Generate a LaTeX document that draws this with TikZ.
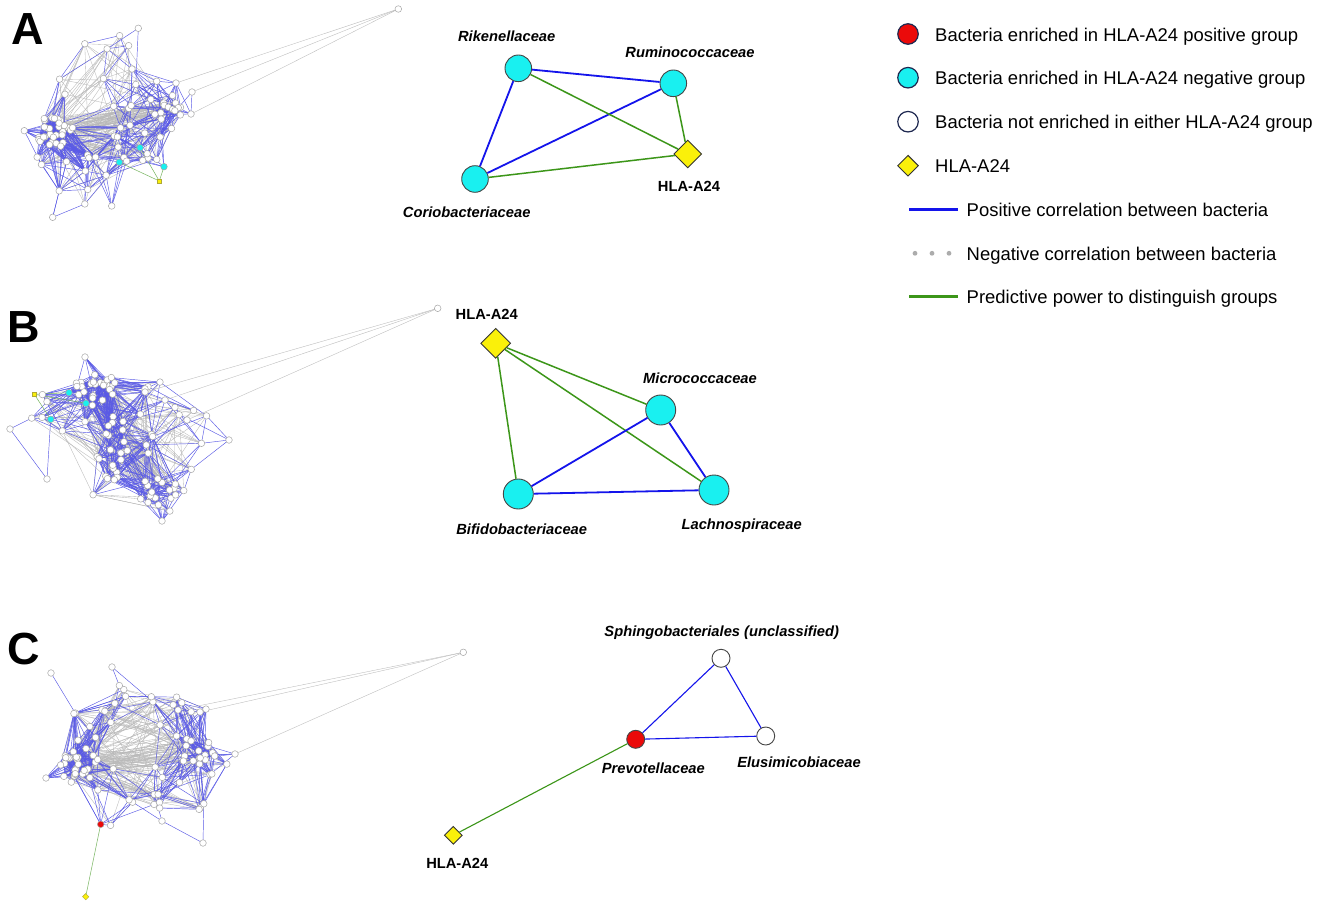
\documentclass[tikz,border=0pt]{standalone}
\usepackage{fontspec}
\setmainfont{Liberation Sans}
\usetikzlibrary{shapes.geometric}

\definecolor{posblue}{RGB}{20,20,235}
\definecolor{predgreen}{RGB}{60,150,25}
\definecolor{hbblue}{RGB}{90,90,230}
\definecolor{hbgray}{RGB}{185,185,185}
\definecolor{nodeedge}{RGB}{70,70,70}
\definecolor{legedge}{RGB}{30,40,80}
\definecolor{enrcyan}{RGB}{25,240,240}
\definecolor{enrred}{RGB}{235,10,10}
\definecolor{hlayellow}{RGB}{250,240,10}

% hairball helpers
\newcommand\hbpoint[4]{%
  \expandafter\xdef\csname hb#1x#2\endcsname{#3}%
  \expandafter\xdef\csname hb#1y#2\endcsname{#4}%
  \coordinate (#1#2) at (#3,#4);%
}
\newcommand\hbscatter[7]{%
  \foreach \k in {#2,...,#3}{%
    \pgfmathsetmacro\hbang{360*rnd}%
    \pgfmathsetmacro\hbrad{sqrt(rnd)}%
    \pgfmathsetmacro\hbpx{#4+#6*\hbrad*cos(\hbang)}%
    \pgfmathsetmacro\hbpy{#5+#7*\hbrad*sin(\hbang)}%
    \hbpoint{#1}{\k}{\hbpx}{\hbpy}%
  }%
}
\newcommand\hbgray[4]{%
  \foreach \m in {1,...,#3}{%
    \pgfmathtruncatemacro\hba{random(1,#2)}%
    \pgfmathtruncatemacro\hbb{random(1,#2)}%
    \draw[#4] (#1\hba) -- (#1\hbb);%
  }%
}
\newcommand\hbedges[5]{%
  \foreach \i in {1,...,#2}{%
    \foreach \j in {1,...,#2}{%
      \ifnum\j>\i\relax
        \pgfmathsetmacro\hbdx{\csname hb#1x\i\endcsname-\csname hb#1x\j\endcsname}%
        \pgfmathsetmacro\hbdy{\csname hb#1y\i\endcsname-\csname hb#1y\j\endcsname}%
        \pgfmathtruncatemacro\hbok{and(abs(\hbdx)<#3,abs(\hbdy)<#3)}%
        \ifnum\hbok=1
          \pgfmathtruncatemacro\hbok{and((0.1*(\hbdx))^2+(0.1*(\hbdy))^2<(0.1*#3)^2,rnd<#4)}%
          \ifnum\hbok=1 \draw[#5] (#1\i) -- (#1\j);\fi
        \fi
      \fi
    }%
  }%
}
\newcommand\hbnodes[4]{%
  \foreach \k in {#2,...,#3} \node[#4] (#1n\k) at (#1\k) {};%
}

\begin{document}
\begin{tikzpicture}[x=1pt,y=-1pt]
    \tikzstyle{panel_style}=[font=\fontsize{45}{50}\selectfont\bfseries, inner sep=0pt]
    \tikzstyle{taxon_style}=[font=\fontsize{14.7}{17}\selectfont\bfseries\itshape, inner sep=0pt]
    \tikzstyle{hla_label_style}=[font=\fontsize{14.7}{17}\selectfont\bfseries, inner sep=0pt]
    \tikzstyle{leg_text}=[font=\fontsize{18.45}{22}\selectfont, anchor=base west, inner sep=0pt]
    \tikzstyle{leg_circle}=[circle, draw=legedge, line width=1.2pt, minimum size=20.5pt, inner sep=0pt]
    \tikzstyle{taxon_circle}=[circle, draw=nodeedge, line width=0.9pt, inner sep=0pt]
    \tikzstyle{hla_style}=[diamond, draw=black!80, fill=hlayellow, line width=0.9pt, inner sep=0pt, aspect=1]
    \tikzstyle{pos_edge}=[draw=posblue, line width=1.8pt]
    \tikzstyle{pred_edge}=[draw=predgreen, line width=1.5pt]
    \tikzstyle{hb_node}=[circle, draw=gray!70, fill=white, line width=0.5pt, minimum size=6.6pt, inner sep=0pt]
    \tikzstyle{hb_square}=[rectangle, draw=olive!70, fill=hlayellow, line width=0.4pt, minimum size=4.5pt, inner sep=0pt]
    \tikzstyle{hb_blue}=[draw=hbblue, line width=0.45pt]
    \tikzstyle{hb_gray}=[draw=hbgray, line width=0.35pt]
    \tikzstyle{hb_green}=[draw=predgreen!70, line width=0.5pt]

    \useasboundingbox (0,0) rectangle (1335,904);
    \fill[white] (0,0) rectangle (1335,904);

    % panel letters
    \node at (27.7,29.5) [panel_style] (panel_a) {A};
    \node at (24,327) [panel_style] (panel_b) {B};
    \node at (24,649) [panel_style] (panel_c) {C};

    % hairball a
    \pgfmathsetseed{101}
    \hbscatter{hba_}{1}{25}{57}{133}{20}{16}
    \hbscatter{hba_}{26}{40}{165}{112}{18}{22}
    \hbscatter{hba_}{41}{85}{100}{120}{78}{88}
    \hbpoint{hba_}{86}{138.3}{28.3}
    \hbpoint{hba_}{87}{24.3}{130.7}
    \hbpoint{hba_}{88}{52.7}{217.3}
    \hbpoint{hba_}{89}{111.7}{206}
    \hbpoint{hba_}{90}{192}{92}
    \hbpoint{hba_}{91}{191}{114}
    \hbpoint{hba_}{92}{176}{83}
    \hbpoint{hba_}{93}{140}{147.7}
    \hbpoint{hba_}{94}{119.3}{162.3}
    \hbpoint{hba_}{95}{164}{166.7}
    \hbpoint{hba_}{96}{159.3}{181}
    \hbpoint{hba_}{97}{398.3}{9}
    \hbgray{hba_}{85}{300}{hb_gray}
    \hbedges{hba_}{95}{58}{0.33}{hb_blue}
    \foreach \k in {93,94,95}
      \draw[hb_green] (hba_96) -- (hba_\k);
    \foreach \k in {90,91,92}
      \draw[hb_gray] (hba_97) -- (hba_\k);
    \hbnodes{hba_}{1}{92}{hb_node}
    \hbnodes{hba_}{93}{95}{hb_node, fill=enrcyan}
    \node at (hba_96) [hb_square] (hba_n96) {};
    \node at (hba_97) [hb_node] (hba_n97) {};

    % hairball b
    \pgfmathsetseed{202}
    \hbscatter{hbb_}{1}{25}{97}{388}{22}{14}
    \hbscatter{hbb_}{26}{45}{125}{445}{35}{38}
    \hbscatter{hbb_}{46}{60}{160}{495}{25}{18}
    \hbscatter{hbb_}{61}{85}{118}{440}{100}{72}
    \hbpoint{hbb_}{86}{85}{357}
    \hbpoint{hbb_}{87}{10}{429}
    \hbpoint{hbb_}{88}{229}{440}
    \hbpoint{hbb_}{89}{162}{521}
    \hbpoint{hbb_}{90}{47}{479}
    \hbpoint{hbb_}{91}{187}{420}
    \hbpoint{hbb_}{92}{165}{400}
    \hbpoint{hbb_}{93}{145}{392}
    \hbpoint{hbb_}{94}{69}{392.7}
    \hbpoint{hbb_}{95}{86}{403.3}
    \hbpoint{hbb_}{96}{50.7}{419.3}
    \hbpoint{hbb_}{97}{34.3}{394.3}
    \hbpoint{hbb_}{98}{437.7}{308.3}
    \hbgray{hbb_}{85}{300}{hb_gray}
    \hbedges{hbb_}{96}{58}{0.33}{hb_blue}
    \foreach \k in {87,96}
      \draw[hb_blue] (hbb_90) -- (hbb_\k);
    \foreach \k in {94,95,96}
      \draw[hb_green] (hbb_97) -- (hbb_\k);
    \foreach \k in {91,92,93}
      \draw[hb_gray] (hbb_98) -- (hbb_\k);
    \hbnodes{hbb_}{1}{93}{hb_node}
    \hbnodes{hbb_}{94}{96}{hb_node, fill=enrcyan}
    \node at (hbb_97) [hb_square] (hbb_n97) {};
    \node at (hbb_98) [hb_node] (hbb_n98) {};

    % hairball c
    \pgfmathsetseed{303}
    \hbscatter{hbc_}{1}{25}{77}{767}{20}{16}
    \hbscatter{hbc_}{26}{40}{200}{745}{18}{22}
    \hbscatter{hbc_}{41}{85}{140}{755}{90}{75}
    \hbpoint{hbc_}{86}{112}{667}
    \hbpoint{hbc_}{87}{51}{673}
    \hbpoint{hbc_}{88}{46}{778}
    \hbpoint{hbc_}{89}{235}{754}
    \hbpoint{hbc_}{90}{203}{843}
    \hbpoint{hbc_}{91}{162}{821}
    \hbpoint{hbc_}{92}{178}{710}
    \hbpoint{hbc_}{93}{200}{712}
    \hbpoint{hbc_}{94}{100.7}{824.3}
    \hbpoint{hbc_}{95}{85.7}{896.7}
    \hbpoint{hbc_}{96}{463.3}{652.3}
    \hbgray{hbc_}{85}{300}{hb_gray}
    \hbedges{hbc_}{94}{58}{0.33}{hb_blue}
    \draw[hb_blue] (hbc_90) -- (hbc_91);
    \draw[hb_green] (hbc_95) -- (hbc_94);
    \foreach \k in {89,92,93}
      \draw[hb_gray] (hbc_96) -- (hbc_\k);
    \hbnodes{hbc_}{1}{93}{hb_node}
    \node at (hbc_94) [hb_node, fill=enrred] (hbc_n94) {};
    \node at (hbc_95) [hb_square, rotate=45] (hbc_n95) {};
    \node at (hbc_96) [hb_node] (hbc_n96) {};

    % network a
    \node at (518.3,68.3) [taxon_circle, fill=enrcyan, minimum size=26.6pt] (a_rik) {};
    \node at (673.3,83.3) [taxon_circle, fill=enrcyan, minimum size=26.6pt] (a_rum) {};
    \node at (475,179) [taxon_circle, fill=enrcyan, minimum size=26.6pt] (a_cor) {};
    \node at (687.7,154) [hla_style, minimum width=28pt, minimum height=28pt] (a_hla) {};
    \node at (506.7,36.7) [taxon_style] (a_rik_label) {Rikenellaceae};
    \node at (690,52.3) [taxon_style] (a_rum_label) {Ruminococcaceae};
    \node at (466.7,212.7) [taxon_style] (a_cor_label) {Coriobacteriaceae};
    \node at (689,186.7) [hla_label_style] (a_hla_label) {HLA-A24};
    \path[pos_edge] (a_rik) edge (a_rum) edge (a_cor);
    \path[pos_edge] (a_rum) edge (a_cor);
    \path[pred_edge] (a_hla) edge (a_rik) edge (a_rum) edge (a_cor);

    % network b
    \node at (495.7,343.3) [hla_style, minimum width=30pt, minimum height=30pt] (b_hla) {};
    \node at (660.7,410) [taxon_circle, fill=enrcyan, minimum size=30pt] (b_mic) {};
    \node at (518.3,494) [taxon_circle, fill=enrcyan, minimum size=30pt] (b_bif) {};
    \node at (714,490) [taxon_circle, fill=enrcyan, minimum size=30pt] (b_lach) {};
    \node at (486.7,314) [hla_label_style] (b_hla_label) {HLA-A24};
    \node at (700,378.3) [taxon_style] (b_mic_label) {Micrococcaceae};
    \node at (521.7,529.3) [taxon_style] (b_bif_label) {Bifidobacteriaceae};
    \node at (741.7,525.8) [taxon_style] (b_lach_label) {Lachnospiraceae};
    \path[pred_edge] (b_hla) edge (b_mic) edge (b_lach) edge (b_bif);
    \path[pos_edge] (b_mic) edge (b_bif) edge (b_lach);
    \path[pos_edge] (b_bif) edge (b_lach);

    % network c
    \node at (721,658.3) [taxon_circle, fill=white, minimum size=18pt] (c_sph) {};
    \node at (635.7,739.3) [taxon_circle, fill=enrred, minimum size=18pt] (c_prev) {};
    \node at (765.7,736) [taxon_circle, fill=white, minimum size=18pt] (c_elus) {};
    \node at (453.3,835.3) [hla_style, minimum width=18pt, minimum height=18pt] (c_hla) {};
    \node at (721.7,632.2) [taxon_style] (c_sph_label) {Sphingobacteriales (unclassified)};
    \node at (653.3,768.2) [taxon_style] (c_prev_label) {Prevotellaceae};
    \node at (799,762.3) [taxon_style] (c_elus_label) {Elusimicobiaceae};
    \node at (457.3,863.3) [hla_label_style] (c_hla_label) {HLA-A24};
    \path[pos_edge, line width=1.1pt] (c_sph) edge (c_prev) edge (c_elus);
    \path[pos_edge, line width=1.1pt] (c_prev) edge (c_elus);
    \path[pred_edge, line width=1.1pt] (c_prev) edge (c_hla);

    % legend
    \node at (908,34) [leg_circle, fill=enrred] (leg_pos) {};
    \node at (908,77.7) [leg_circle, fill=enrcyan] (leg_neg) {};
    \node at (908,121.7) [leg_circle, fill=white] (leg_none) {};
    \node at (908,165.7) [hla_style, minimum width=21pt, minimum height=21pt] (leg_hla) {};
    \node at (935,41.3) [leg_text] (leg_pos_text) {Bacteria enriched in HLA-A24 positive group};
    \node at (935,84.7) [leg_text] (leg_neg_text) {Bacteria enriched in HLA-A24 negative group};
    \node at (935,128.7) [leg_text] (leg_none_text) {Bacteria not enriched in either HLA-A24 group};
    \node at (935,172.7) [leg_text] (leg_hla_text) {HLA-A24};
    \coordinate (leg_blue_a) at (909,209.3);
    \coordinate (leg_blue_b) at (958,209.3);
    \draw[pos_edge, line width=2.6pt] (leg_blue_a) -- (leg_blue_b);
    \foreach \x in {915,932,949}
      \fill[gray!65] (\x,253.3) circle (2.4);
    \coordinate (leg_green_a) at (909,296.7);
    \coordinate (leg_green_b) at (958,296.7);
    \draw[pred_edge, line width=2.6pt] (leg_green_a) -- (leg_green_b);
    \node at (966.5,216.3) [leg_text] (leg_blue_text) {Positive correlation between bacteria};
    \node at (966.5,260.3) [leg_text] (leg_gray_text) {Negative correlation between bacteria};
    \node at (966.5,303.7) [leg_text] (leg_green_text) {Predictive power to distinguish groups};
\end{tikzpicture}
\end{document}
